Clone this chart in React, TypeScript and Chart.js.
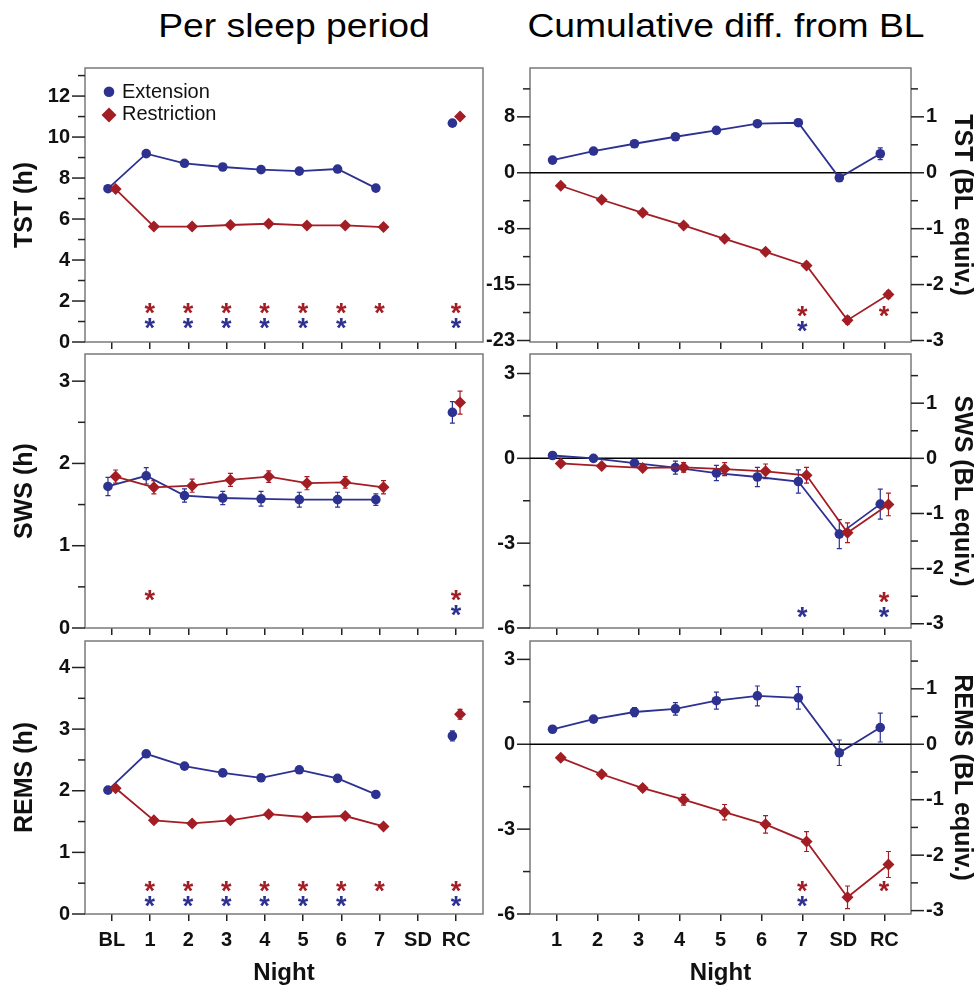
import React, { useEffect, useRef } from 'react';
import { Chart, registerables } from 'chart.js';

Chart.register(...registerables);

const FONT = '"Liberation Sans", Arial, Helvetica, sans-serif';
const BLUE = '#2d3190';
const RED = '#a31d24';
const FRAME = '#7a7a7a';
const INK = '#111111';

// ---------- categories ----------
const nightsLeft = ['BL', '1', '2', '3', '4', '5', '6', '7', 'SD', 'RC'];
const nightsRight = ['1', '2', '3', '4', '5', '6', '7', 'SD', 'RC'];

// ---------- per sleep period (h) ----------
const tstExt = [7.48, 9.19, 8.72, 8.54, 8.41, 8.34, 8.44, 7.51, null, 10.68];
const tstExtErr = [0.08, 0.1, 0.08, 0.08, 0.08, 0.08, 0.08, 0.08, null, 0.1];
const tstRes = [7.46, 5.63, 5.63, 5.71, 5.77, 5.69, 5.69, 5.61, null, 11.0];
const tstResErr = [0.08, 0.05, 0.05, 0.05, 0.05, 0.05, 0.05, 0.05, null, 0.1];
const tstSigExt = [0, 1, 1, 1, 1, 1, 1, 0, 0, 1];
const tstSigRes = [0, 1, 1, 1, 1, 1, 1, 1, 0, 1];

const swsExt = [1.72, 1.85, 1.61, 1.58, 1.57, 1.56, 1.56, 1.56, null, 2.62];
const swsExtErr = [0.11, 0.1, 0.08, 0.08, 0.09, 0.09, 0.09, 0.07, null, 0.13];
const swsRes = [1.84, 1.71, 1.73, 1.8, 1.84, 1.76, 1.77, 1.71, null, 2.74];
const swsResErr = [0.08, 0.08, 0.08, 0.08, 0.07, 0.08, 0.07, 0.08, null, 0.14];
const swsSigExt = [0, 0, 0, 0, 0, 0, 0, 0, 0, 1];
const swsSigRes = [0, 1, 0, 0, 0, 0, 0, 0, 0, 1];

const remsExt = [2.01, 2.6, 2.4, 2.29, 2.21, 2.34, 2.2, 1.94, null, 2.89];
const remsExtErr = [0.04, 0.05, 0.05, 0.05, 0.04, 0.05, 0.04, 0.04, null, 0.08];
const remsRes = [2.04, 1.52, 1.47, 1.52, 1.62, 1.57, 1.59, 1.42, null, 3.24];
const remsResErr = [0.03, 0.04, 0.03, 0.04, 0.04, 0.04, 0.04, 0.03, null, 0.08];
const remsSigExt = [0, 1, 1, 1, 1, 1, 1, 0, 0, 1];
const remsSigRes = [0, 1, 1, 1, 1, 1, 1, 1, 0, 1];

// ---------- cumulative difference from BL (h) ----------
const cumTstExt = [1.7, 2.91, 3.89, 4.83, 5.69, 6.58, 6.71, -0.67, 2.55];
const cumTstExtErr = [0.25, 0.3, 0.3, 0.3, 0.3, 0.35, 0.45, 0.45, 0.8];
const cumTstRes = [-1.74, -3.62, -5.37, -7.06, -8.86, -10.6, -12.43, -19.77, -16.32];
const cumTstResErr = [0.2, 0.25, 0.3, 0.3, 0.35, 0.35, 0.4, 0.5, 0.45];
const cumTstSigExt = [0, 0, 0, 0, 0, 0, 1, 0, 0];
const cumTstSigRes = [0, 0, 0, 0, 0, 0, 1, 0, 1];

const cumSwsExt = [0.1, 0.0, -0.17, -0.33, -0.52, -0.66, -0.82, -2.68, -1.62];
const cumSwsExtErr = [0.05, 0.05, 0.08, 0.23, 0.27, 0.34, 0.41, 0.51, 0.53];
const cumSwsRes = [-0.18, -0.27, -0.34, -0.32, -0.38, -0.46, -0.6, -2.63, -1.63];
const cumSwsResErr = [0.05, 0.06, 0.08, 0.17, 0.23, 0.26, 0.28, 0.35, 0.4];
const cumSwsSigExt = [0, 0, 0, 0, 0, 0, 1, 0, 1];
const cumSwsSigRes = [0, 0, 0, 0, 0, 0, 0, 0, 1];

const cumRemsExt = [0.53, 0.89, 1.14, 1.25, 1.54, 1.71, 1.64, -0.3, 0.59];
const cumRemsExtErr = [0.05, 0.08, 0.16, 0.22, 0.3, 0.35, 0.4, 0.45, 0.51];
const cumRemsRes = [-0.48, -1.06, -1.55, -1.96, -2.4, -2.83, -3.44, -5.41, -4.25];
const cumRemsResErr = [0.06, 0.08, 0.1, 0.19, 0.27, 0.31, 0.35, 0.4, 0.46];
const cumRemsSigExt = [0, 0, 0, 0, 0, 0, 1, 0, 0];
const cumRemsSigRes = [0, 0, 0, 0, 0, 0, 1, 0, 1];

// ---------- tick values ----------
const tstTicks = [0, 1, 2, 3, 4, 5, 6, 7, 8, 9, 10, 11, 12, 13];
const swsTicks = [0, 0.5, 1, 1.5, 2, 2.5, 3];
const remsTicks = [0, 0.5, 1, 1.5, 2, 2.5, 3, 3.5, 4];
const cumTstTicks = [-22.5, -18.75, -15, -11.25, -7.5, -3.75, 0, 3.75, 7.5, 11.25];
const cumTicks = [-6, -4.5, -3, -1.5, 0, 1.5, 3];
const blEquivTicks = [-3, -2.5, -2, -1.5, -1, -0.5, 0, 0.5, 1, 1.5];

const near = (a: number, b: number) => Math.abs(a - b) < 1e-6;
const evenLabel = (v: number) => (near(v % 2, 0) ? String(v) : '');
const intLabel = (v: number) => (Number.isInteger(v) ? String(v) : '');
const blMultLabel = (v: number) => (near(v / 7.5, Math.round(v / 7.5)) ? String(Math.sign(v) * Math.round(Math.abs(v)) || 0) : '');
const threeLabel = (v: number) => (near(v / 3, Math.round(v / 3)) ? String(v) : '');

type PanelCfg = {
  canvas: { x: number; y: number; w: number; h: number };
  padR: number; padB: number; yW: number; y2W: number; xH: number;
  cats: string[]; xPad: number;
  ext: (number | null)[]; extErr: (number | null)[];
  res: (number | null)[]; resErr: (number | null)[];
  sigExt: number[]; sigRes: number[];
  starRed: number; starBlue: number;
  yMin: number; yMax: number; yTicks: number[]; yLabel: (v: number) => string; yTitle: string;
  y2?: { factor: number; title: string };
  showX: boolean; legend: boolean; zero: boolean;
};

const panels: PanelCfg[] = [
  {
    canvas: { x: 0, y: 38, w: 495, h: 334 }, padR: 12, padB: 20, yW: 85, y2W: 0, xH: 10,
    cats: nightsLeft, xPad: 0.7,
    ext: tstExt, extErr: tstExtErr, res: tstRes, resErr: tstResErr, sigExt: tstSigExt, sigRes: tstSigRes,
    starRed: 1.64, starBlue: 0.88,
    yMin: 0, yMax: 13.37, yTicks: tstTicks, yLabel: evenLabel, yTitle: 'TST (h)',
    showX: false, legend: true, zero: false,
  },
  {
    canvas: { x: 0, y: 324, w: 495, h: 334 }, padR: 12, padB: 20, yW: 85, y2W: 0, xH: 10,
    cats: nightsLeft, xPad: 0.7,
    ext: swsExt, extErr: swsExtErr, res: swsRes, resErr: swsResErr, sigExt: swsSigExt, sigRes: swsSigRes,
    starRed: 0.39, starBlue: 0.21,
    yMin: 0, yMax: 3.33, yTicks: swsTicks, yLabel: intLabel, yTitle: 'SWS (h)',
    showX: false, legend: false, zero: false,
  },
  {
    canvas: { x: 0, y: 611, w: 495, h: 377 }, padR: 12, padB: 0, yW: 85, y2W: 0, xH: 74,
    cats: nightsLeft, xPad: 0.7,
    ext: remsExt, extErr: remsExtErr, res: remsRes, resErr: remsResErr, sigExt: remsSigExt, sigRes: remsSigRes,
    starRed: 0.45, starBlue: 0.21,
    yMin: 0, yMax: 4.43, yTicks: remsTicks, yLabel: intLabel, yTitle: 'REMS (h)',
    showX: true, legend: false, zero: false,
  },
  {
    canvas: { x: 480, y: 38, w: 520, h: 334 }, padR: 0, padB: 20, yW: 50, y2W: 89, xH: 10,
    cats: nightsRight, xPad: 0.65,
    ext: cumTstExt, extErr: cumTstExtErr, res: cumTstRes, resErr: cumTstResErr, sigExt: cumTstSigExt, sigRes: cumTstSigRes,
    starRed: -18.56, starBlue: -20.58,
    yMin: -22.7, yMax: 14.05, yTicks: cumTstTicks, yLabel: blMultLabel, yTitle: '',
    y2: { factor: 7.5, title: 'TST (BL equiv.)' },
    showX: false, legend: false, zero: true,
  },
  {
    canvas: { x: 480, y: 324, w: 520, h: 334 }, padR: 0, padB: 20, yW: 50, y2W: 89, xH: 10,
    cats: nightsRight, xPad: 0.65,
    ext: cumSwsExt, extErr: cumSwsExtErr, res: cumSwsRes, resErr: cumSwsResErr, sigExt: cumSwsSigExt, sigRes: cumSwsSigRes,
    starRed: -4.92, starBlue: -5.45,
    yMin: -6, yMax: 3.69, yTicks: cumTicks, yLabel: threeLabel, yTitle: '',
    y2: { factor: 1.95, title: 'SWS (BL equiv.)' },
    showX: false, legend: false, zero: true,
  },
  {
    canvas: { x: 480, y: 611, w: 520, h: 377 }, padR: 0, padB: 0, yW: 50, y2W: 89, xH: 74,
    cats: nightsRight, xPad: 0.65,
    ext: cumRemsExt, extErr: cumRemsExtErr, res: cumRemsRes, resErr: cumRemsResErr, sigExt: cumRemsSigExt, sigRes: cumRemsSigRes,
    starRed: -5.03, starBlue: -5.56,
    yMin: -6, yMax: 3.65, yTicks: cumTicks, yLabel: threeLabel, yTitle: '',
    y2: { factor: 1.96, title: 'REMS (BL equiv.)' },
    showX: true, legend: false, zero: true,
  },
];

function makePlugins(p: PanelCfg) {
  const frame = {
    id: 'frame',
    beforeDatasetsDraw(chart: any) {
      const { ctx, chartArea: a } = chart;
      ctx.save();
      ctx.strokeStyle = FRAME;
      ctx.lineWidth = 1.5;
      ctx.strokeRect(a.left, a.top, a.right - a.left, a.bottom - a.top);
      if (p.zero) {
        const y0 = chart.scales.y.getPixelForValue(0);
        ctx.strokeStyle = '#000';
        ctx.lineWidth = 1.5;
        ctx.beginPath();
        ctx.moveTo(a.left, y0);
        ctx.lineTo(a.right, y0);
        ctx.stroke();
      }
      // y tick marks (major longer than minor)
      ['y', 'y2'].forEach((id) => {
        const s = chart.scales[id];
        if (!s) return;
        ctx.strokeStyle = '#222';
        ctx.lineWidth = 1.5;
        s.ticks.forEach((t: any) => {
          const py = s.getPixelForValue(t.value);
          const len = t.label !== '' ? 13 : 7;
          ctx.beginPath();
          if (s.position === 'left') {
            ctx.moveTo(a.left - len, py);
            ctx.lineTo(a.left, py);
          } else {
            ctx.moveTo(a.right, py);
            ctx.lineTo(a.right + len, py);
          }
          ctx.stroke();
        });
      });
      // error bars
      const xs = chart.scales.x;
      const ys = chart.scales.y;
      chart.data.datasets.forEach((ds: any) => {
        const errs = ds.errors;
        if (!errs) return;
        ctx.strokeStyle = ds.borderColor;
        ctx.lineWidth = 1.2;
        ds.data.forEach((pt: any, i: number) => {
          if (pt.y == null || errs[i] == null) return;
          const x = xs.getPixelForValue(pt.x);
          const yLo = ys.getPixelForValue(pt.y - errs[i]);
          const yHi = ys.getPixelForValue(pt.y + errs[i]);
          ctx.beginPath();
          ctx.moveTo(x, yLo);
          ctx.lineTo(x, yHi);
          ctx.moveTo(x - 2.5, yLo);
          ctx.lineTo(x + 2.5, yLo);
          ctx.moveTo(x - 2.5, yHi);
          ctx.lineTo(x + 2.5, yHi);
          ctx.stroke();
        });
      });
      ctx.restore();
    },
    afterDatasetsDraw(chart: any) {
      const { ctx, chartArea: a } = chart;
      const xs = chart.scales.x;
      const ys = chart.scales.y;
      ctx.save();
      // significance asterisks
      ctx.font = `bold 27px ${FONT}`;
      ctx.textAlign = 'left';
      ctx.textBaseline = 'alphabetic';
      const m = ctx.measureText('*');
      const gw = m.actualBoundingBoxRight - m.actualBoundingBoxLeft;
      const drawStar = (i: number, level: number, color: string) => {
        const cx = xs.getPixelForValue(i);
        const cy = ys.getPixelForValue(level);
        ctx.fillStyle = color;
        ctx.fillText('*', cx - gw / 2 + m.actualBoundingBoxLeft, cy + (m.actualBoundingBoxAscent - m.actualBoundingBoxDescent) / 2);
      };
      p.sigRes.forEach((f, i) => { if (f) drawStar(i, p.starRed, RED); });
      p.sigExt.forEach((f, i) => { if (f) drawStar(i, p.starBlue, BLUE); });
      // legend
      if (p.legend) {
        const lx = a.left + 24;
        ctx.fillStyle = BLUE;
        ctx.beginPath();
        ctx.arc(lx, a.top + 23.7, 5.3, 0, Math.PI * 2);
        ctx.fill();
        const dy = a.top + 47;
        const r = 7.5;
        ctx.fillStyle = RED;
        ctx.beginPath();
        ctx.moveTo(lx - r, dy);
        ctx.lineTo(lx, dy - r);
        ctx.lineTo(lx + r, dy);
        ctx.lineTo(lx, dy + r);
        ctx.closePath();
        ctx.fill();
        ctx.fillStyle = INK;
        ctx.font = `20px ${FONT}`;
        ctx.textBaseline = 'middle';
        ctx.fillText('Extension', a.left + 37, a.top + 24.5);
        ctx.fillText('Restriction', a.left + 37, a.top + 46.7);
      }
      ctx.restore();
    },
  };
  return [frame];
}

function buildConfig(p: PanelCfg): any {
  const toPts = (vals: (number | null)[], off: number) => vals.map((v, i) => ({ x: i + off, y: v }));
  const tickFont = { family: FONT, size: 20, weight: 'bold' as const };
  const titleFont = { family: FONT, size: 25, weight: 'bold' as const };
  const scales: any = {
    x: {
      type: 'linear',
      min: -p.xPad,
      max: p.cats.length - 1 + p.xPad,
      afterBuildTicks: (s: any) => { s.ticks = p.cats.map((_, i) => ({ value: i })); },
      afterFit: (s: any) => { s.height = p.xH; },
      ticks: {
        display: p.showX, autoSkip: false, maxRotation: 0, minRotation: 0, padding: 7,
        color: INK, font: tickFont,
        callback: (v: number) => p.cats[v] ?? '',
      },
      grid: { display: true, drawOnChartArea: false, drawTicks: true, tickLength: 7, color: '#222', lineWidth: 1.5 },
      border: { display: false },
      title: { display: p.showX, text: 'Night', color: INK, font: { family: FONT, size: 24, weight: 'bold' }, padding: { top: 0, bottom: 0 } },
    },
    y: {
      type: 'linear',
      position: 'left',
      min: p.yMin,
      max: p.yMax,
      afterBuildTicks: (s: any) => { s.ticks = p.yTicks.map((v) => ({ value: v })); },
      afterFit: (s: any) => { s.width = p.yW; },
      ticks: { autoSkip: false, padding: 15, color: INK, font: tickFont, callback: (v: number) => p.yLabel(v) },
      grid: { display: false, drawTicks: false },
      border: { display: false },
      title: { display: p.yTitle !== '', text: p.yTitle, color: INK, font: titleFont, padding: { top: 10, bottom: 0 } },
    },
  };
  if (p.y2) {
    const f = p.y2.factor;
    scales.y2 = {
      type: 'linear',
      position: 'right',
      min: p.yMin / f,
      max: p.yMax / f,
      afterBuildTicks: (s: any) => { s.ticks = blEquivTicks.map((v) => ({ value: v })); },
      afterFit: (s: any) => { s.width = p.y2W; },
      ticks: { autoSkip: false, padding: 15, color: INK, font: tickFont, callback: (v: number) => intLabel(v) },
      grid: { display: false, drawTicks: false },
      border: { display: false },
      title: { display: true, text: p.y2.title, color: INK, font: titleFont, padding: { top: 23, bottom: 0 } },
    };
  }
  return {
    type: 'line',
    data: {
      datasets: [
        {
          label: 'Restriction', data: toPts(p.res, 0.1), errors: p.resErr,
          borderColor: RED, backgroundColor: RED, borderWidth: 1.8,
          pointStyle: 'rectRot', pointRadius: 6, pointBorderWidth: 0, pointBackgroundColor: RED,
          tension: 0, spanGaps: false,
        },
        {
          label: 'Extension', data: toPts(p.ext, -0.1), errors: p.extErr,
          borderColor: BLUE, backgroundColor: BLUE, borderWidth: 1.8,
          pointStyle: 'circle', pointRadius: 4.8, pointBorderWidth: 0, pointBackgroundColor: BLUE,
          tension: 0, spanGaps: false,
        },
      ],
    },
    options: {
      responsive: false,
      animation: false,
      events: [],
      layout: { padding: { left: 0, right: p.padR, top: 30, bottom: p.padB } },
      plugins: { legend: { display: false }, tooltip: { enabled: false }, title: { display: false } },
      scales,
    },
    plugins: makePlugins(p),
  };
}

function Panel({ cfg }: { cfg: PanelCfg }) {
  const ref = useRef<HTMLCanvasElement | null>(null);
  useEffect(() => {
    if (!ref.current) return;
    const chart = new Chart(ref.current, buildConfig(cfg));
    return () => chart.destroy();
  }, [cfg]);
  return (
    <canvas
      ref={ref}
      width={cfg.canvas.w}
      height={cfg.canvas.h}
      style={{ position: 'absolute', left: cfg.canvas.x, top: cfg.canvas.y, width: cfg.canvas.w, height: cfg.canvas.h }}
    />
  );
}

const titleStyle = (cx: number): React.CSSProperties => ({
  position: 'absolute',
  left: cx - 250,
  top: 9,
  width: 500,
  textAlign: 'center',
  fontFamily: FONT,
  fontSize: 33,
  lineHeight: '33px',
  color: '#000',
  whiteSpace: 'nowrap',
  transform: 'scaleX(1.13)',
});

export default function App() {
  return (
    <div style={{ position: 'absolute', left: 0, top: 0, width: 974, height: 988, overflow: 'hidden', background: '#fff' }}>
      <div style={titleStyle(294)}>Per sleep period</div>
      <div style={titleStyle(726)}>Cumulative diff. from BL</div>
      {panels.map((p, i) => (
        <Panel key={i} cfg={p} />
      ))}
    </div>
  );
}
